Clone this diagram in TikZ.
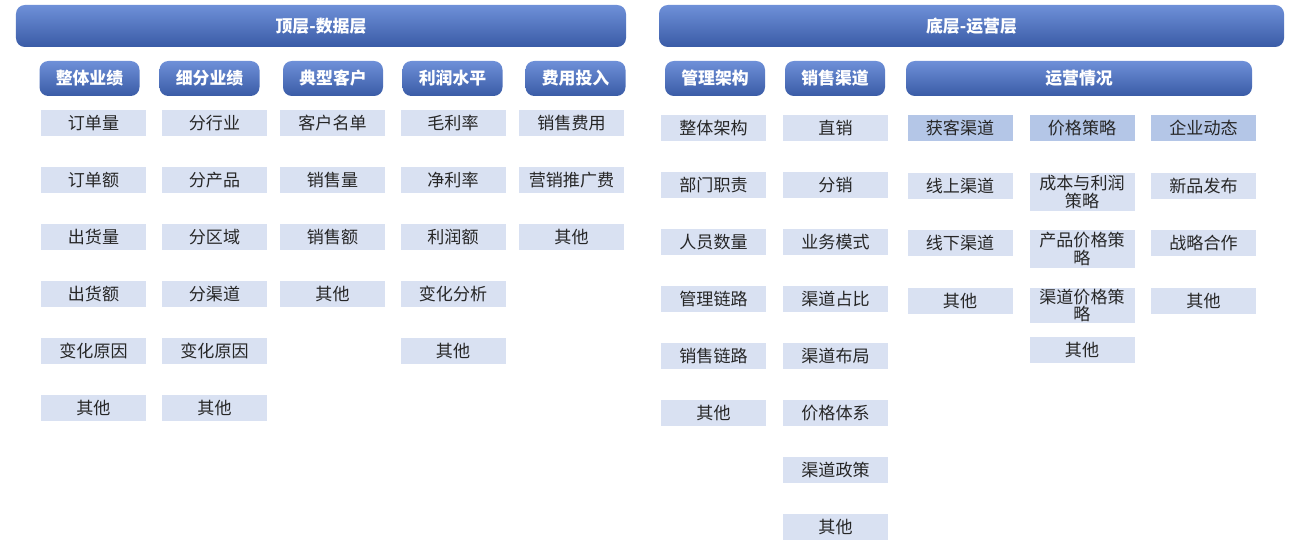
\documentclass[tikz,border=0pt]{standalone}
\usepackage{fontspec}
\setmainfont{Noto Sans CJK SC}
\usepackage{tikz}
\usetikzlibrary{calc}
\definecolor{hdrtop}{HTML}{6E90D8}
\definecolor{hdrbot}{HTML}{3A5BA6}
\definecolor{itemfill}{HTML}{D9E1F2}
\definecolor{itemdark}{HTML}{B4C6E7}
\definecolor{itemtext}{HTML}{262626}

\begin{document}
\begin{tikzpicture}[
  hdr/.style={rounded corners=5pt, top color=hdrtop, bottom color=hdrbot, draw=none,
    text=white, font=\fontsize{9.6}{11}\selectfont\bfseries, inner sep=0pt},
  bigbox/.style={hdr, minimum width=12.2cm, minimum height=0.84cm},
  subbox/.style={hdr, minimum width=2cm, minimum height=0.7cm},
  item/.style={fill=itemfill, text=itemtext, inner sep=0pt, align=center,
    minimum width=2.1cm, minimum height=0.52cm, font=\fontsize{9.7}{10}\selectfont},
  itemdk/.style={item, fill=itemdark}
]
\useasboundingbox (0,0) rectangle (26,-10.86);

% top level headers
\node[bigbox] (data) at (6.42,-0.52) {顶层-数据层};
\node[bigbox, minimum width=12.5cm] (ops) at (19.43,-0.52) {底层-运营层};

% second level headers
\node[subbox] (zt) at (1.79,-1.57) {整体业绩};
\node[subbox] (xf) at (4.19,-1.57) {细分业绩};
\node[subbox] (kh) at (6.66,-1.57) {典型客户};
\node[subbox] (lr) at (9.05,-1.57) {利润水平};
\node[subbox] (fy) at (11.51,-1.57) {费用投入};
\node[subbox] (gl) at (14.30,-1.57) {管理架构};
\node[subbox] (qd) at (16.70,-1.57) {销售渠道};
\node[subbox, minimum width=6.92cm] (yy) at (21.58,-1.57) {运营情况};

% data columns
\foreach \t [count=\i] in {订单量,订单额,出货量,出货额,变化原因,其他}
  \node[item] (zt\i) at (1.87,{-2.46-1.14*(\i-1)}) {\t};
\foreach \t [count=\i] in {分行业,分产品,分区域,分渠道,变化原因,其他}
  \node[item] (xf\i) at (4.29,{-2.46-1.14*(\i-1)}) {\t};
\foreach \t [count=\i] in {客户名单,销售量,销售额,其他}
  \node[item] (kh\i) at (6.65,{-2.46-1.14*(\i-1)}) {\t};
\foreach \t [count=\i] in {毛利率,净利率,利润额,变化分析,其他}
  \node[item] (lr\i) at (9.06,{-2.46-1.14*(\i-1)}) {\t};
\foreach \t [count=\i] in {销售费用,营销推广费,其他}
  \node[item] (fy\i) at (11.43,{-2.46-1.14*(\i-1)}) {\t};

% operation columns
\foreach \t [count=\i] in {整体架构,部门职责,人员数量,管理链路,销售链路,其他}
  \node[item] (gl\i) at (14.27,{-2.56-1.14*(\i-1)}) {\t};
\foreach \t [count=\i] in {直销,分销,业务模式,渠道占比,渠道布局,价格体系,渠道政策,其他}
  \node[item] (qd\i) at (16.71,{-2.56-1.14*(\i-1)}) {\t};

\node[itemdk] (hk) at (19.20,-2.56) {获客渠道};
\node[item] (hk1) at (19.20,-3.72) {线上渠道};
\node[item] (hk2) at (19.20,-4.86) {线下渠道};
\node[item] (hk3) at (19.20,-6.03) {其他};

\node[itemdk] (jg) at (21.64,-2.56) {价格策略};
\node[item, minimum height=0.76cm] (jg1) at (21.64,-3.84) {成本与利润\\策略};
\node[item, minimum height=0.76cm] (jg2) at (21.64,-4.98) {产品价格策\\略};
\node[item, minimum height=0.70cm] (jg3) at (21.64,-6.11) {渠道价格策\\略};
\node[item] (jg4) at (21.64,-7.00) {其他};

\node[itemdk] (qy) at (24.07,-2.56) {企业动态};
\node[item] (qy1) at (24.07,-3.72) {新品发布};
\node[item] (qy2) at (24.07,-4.86) {战略合作};
\node[item] (qy3) at (24.07,-6.03) {其他};
\end{tikzpicture}
\end{document}
